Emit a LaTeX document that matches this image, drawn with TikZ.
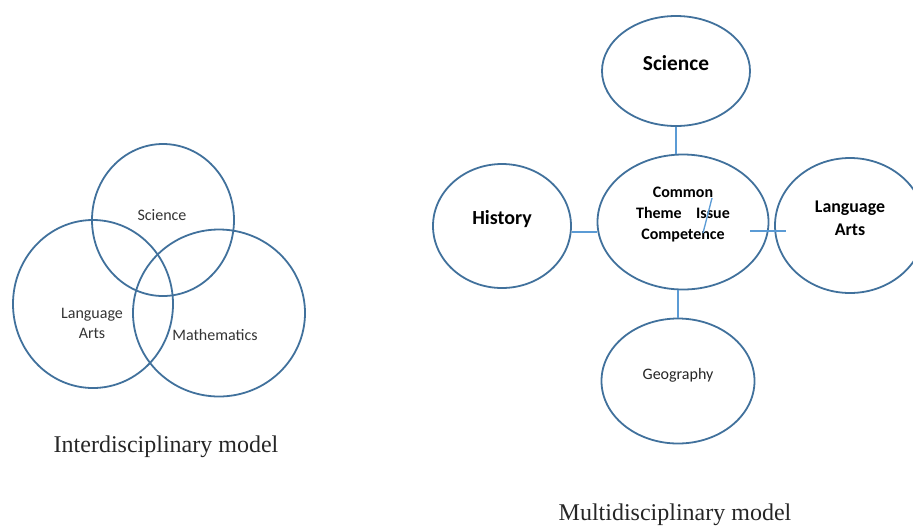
\documentclass[tikz,border=0pt]{standalone}
\usepackage{fontspec}
\setmainfont{Liberation Serif}
\newfontfamily\calibri{Carlito}
\usetikzlibrary{shapes.geometric}
\definecolor{ringblue}{HTML}{41719C}
\definecolor{linkblue}{HTML}{5B9BD5}
\begin{document}
\begin{tikzpicture}[x=0.75pt,y=-0.75pt,
    ring/.style={draw=ringblue,line width=1.35pt,ellipse,inner sep=0pt},
    venn/.style={font=\calibri\fontsize{12}{15}\selectfont,text=black!80,align=center},
    subj/.style={font=\calibri\bfseries\fontsize{12}{15.75}\selectfont,align=center},
    link/.style={draw=linkblue,line width=1pt},
    caption/.style={font=\fontsize{18}{22}\selectfont,text=black!85}]
  \useasboundingbox (0,0) rectangle (913,526);
  % interdisciplinary: three overlapping circles
  \node[ring,minimum width=106.5pt,minimum height=114pt] (s) at (163,220) {};
  \node[ring,minimum width=120pt,minimum height=126pt] (l) at (93,304) {};
  \node[ring,minimum width=129pt,minimum height=125.25pt] (m) at (219,313) {};
  \node[venn] (st) at (162,215) {Science};
  \node[venn] (lt) at (92,323) {Language\\Arts};
  \node[venn] (mt) at (215,335) {Mathematics};
  \node[caption] (cap1) at (166,447) {Interdisciplinary model};
  % multidisciplinary: subjects round a common theme
  \node[ring,minimum width=111pt,minimum height=82.5pt] (sci) at (676,71) {};
  \node[ring,minimum width=128.25pt,minimum height=101.25pt] (com) at (683,222) {};
  \node[ring,minimum width=103.5pt,minimum height=93pt] (his) at (502,226) {};
  \node[ring,minimum width=112.5pt,minimum height=101.25pt] (la) at (850,225.5) {};
  \node[ring,minimum width=114.75pt,minimum height=93.75pt] (geo) at (678,381) {};
  \node[subj,font=\calibri\bfseries\fontsize{16}{19}\selectfont] (scit) at (676,63) {Science};
  \node[subj] (comt) at (683,215) {Common\\Theme\hspace{0.9em}Issue\\Competence};
  \node[subj,font=\calibri\bfseries\fontsize{15}{18}\selectfont] (hist) at (502,219) {History};
  \node[subj,font=\calibri\bfseries\fontsize{13.4}{17}\selectfont] (lat) at (850,218.5) {Language\\Arts};
  \node[venn,text=black!85] (geot) at (678,375) {Geography};
  \node[caption] (cap2) at (675,515) {Multidisciplinary model};
  \begin{scope}[link]
    \draw (sci.south) -- (sci.south |- com.north);
    \draw (his.east) ++(0,6) -- (571,232 -| com.west);
    \draw (com.east) ++(-19,9) -- ++(36,0);
    \draw (com.south -| geo.north) -- (geo.north);
    \draw (com.center) ++(29,-24) -- ++(-9,35);
  \end{scope}
\end{tikzpicture}
\end{document}
